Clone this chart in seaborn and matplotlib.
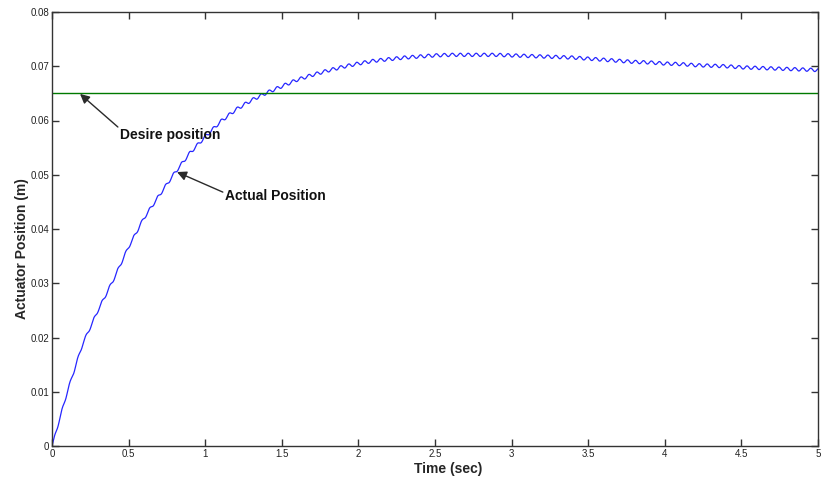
"""
Actuator position step response (MATLAB-style figure) redrawn with seaborn.
"""

import numpy as np
import pandas as pd
import matplotlib
matplotlib.use("Agg")
import matplotlib.pyplot as plt
import seaborn as sns

# Trend of the actual position, every 0.1 s
time_points = [0.0, 0.1, 0.2, 0.3, 0.4, 0.5, 0.6, 0.7, 0.8, 0.9,
               1.0, 1.1, 1.2, 1.3, 1.4, 1.5, 1.6, 1.7, 1.8, 1.9,
               2.0, 2.1, 2.2, 2.3, 2.4, 2.5, 2.6, 2.7, 2.8, 2.9,
               3.0, 3.1, 3.2, 3.3, 3.4, 3.5, 3.6, 3.7, 3.8, 3.9,
               4.0, 4.1, 4.2, 4.3, 4.4, 4.5, 4.6, 4.7, 4.8, 4.9, 5.0]
position_trend = [0.0000, 0.0100, 0.0188, 0.0250, 0.0306, 0.0367, 0.0420, 0.0462, 0.0503, 0.0540,
                  0.0570, 0.0598, 0.0620, 0.0637, 0.0651, 0.0663, 0.0675, 0.0684, 0.0692, 0.0699,
                  0.0705, 0.0710, 0.0713, 0.0716, 0.0718, 0.0720, 0.0721, 0.0721, 0.0721, 0.0721,
                  0.0720, 0.0719, 0.0718, 0.0717, 0.0716, 0.0714, 0.0712, 0.0710, 0.0708, 0.0707,
                  0.0705, 0.0704, 0.0702, 0.0701, 0.0700, 0.0698, 0.0697, 0.0696, 0.0695, 0.0694, 0.0693]
# small ripple riding on the response (amplitude in m, period in s)
ripple_amp = 0.0003
ripple_period = 0.052

desired_position = 0.065

x_ticks = [0, 0.5, 1, 1.5, 2, 2.5, 3, 3.5, 4, 4.5, 5]
x_tick_labels = ['0', '0.5', '1', '1.5', '2', '2.5', '3', '3.5', '4', '4.5', '5']
y_ticks = [0, 0.01, 0.02, 0.03, 0.04, 0.05, 0.06, 0.07, 0.08]
y_tick_labels = ['0', '0.01', '0.02', '0.03', '0.04', '0.05', '0.06', '0.07', '0.08']

sns.set_theme(style='ticks')
plt.rcParams['font.family'] = ['Liberation Sans', 'DejaVu Sans']
plt.rcParams['xtick.direction'] = 'in'
plt.rcParams['ytick.direction'] = 'in'

# fine time grid so the ripple shows
t = np.linspace(0, 5, 4001)
y = np.interp(t, time_points, position_trend)
y = y + ripple_amp * np.sin(2 * np.pi * t / ripple_period) * np.clip(t / 0.02, 0, 1)
df = pd.DataFrame({'time': t, 'position': y})

fig = plt.figure(figsize=(8.22, 4.82), dpi=100)
ax = fig.add_axes([52 / 822, 1 - 446 / 482, 766 / 822, 434 / 482])

sns.lineplot(data=df, x='time', y='position', ax=ax, color='#2626ff', linewidth=0.9)
ax.axhline(desired_position, color='#007a00', linewidth=1.0)

ax.set_xlim(0, 5)
ax.set_ylim(0, 0.08)
ax.set_xticks(x_ticks)
ax.set_xticklabels(x_tick_labels)
ax.set_yticks(y_ticks)
ax.set_yticklabels(y_tick_labels)
ax.tick_params(axis='both', labelsize=7, length=5, width=1, color='#333333',
               top=True, right=True, pad=2, labelcolor='#222222')

for side in ['top', 'right', 'bottom', 'left']:
    ax.spines[side].set_visible(True)
    ax.spines[side].set_color('#333333')
    ax.spines[side].set_linewidth(1)

ax.set_xlabel('Time (sec)', fontsize=10, fontweight='bold')
ax.set_ylabel('Actuator Position (m)', fontsize=10, fontweight='bold')
ax.xaxis.set_label_coords(0.517, -0.036)
ax.yaxis.set_label_coords(-0.030, 0.454)

# Annotations
arrow_style = dict(arrowstyle='-|>', color='#2a2a2a', lw=1, mutation_scale=14,
                   shrinkA=0, shrinkB=0)
ax.annotate('', xy=(0.183, 0.0649), xytext=(0.43, 0.0588), arrowprops=arrow_style)
ax.text(0.445, 0.0573, 'Desire position', fontsize=10, fontweight='bold',
        ha='left', va='center', color='#111111')

ax.annotate('', xy=(0.816, 0.0505), xytext=(1.115, 0.0468), arrowprops=arrow_style)
ax.text(1.13, 0.0461, 'Actual Position', fontsize=10, fontweight='bold',
        ha='left', va='center', color='#111111')

plt.savefig('out.png', dpi=100)
plt.close()
